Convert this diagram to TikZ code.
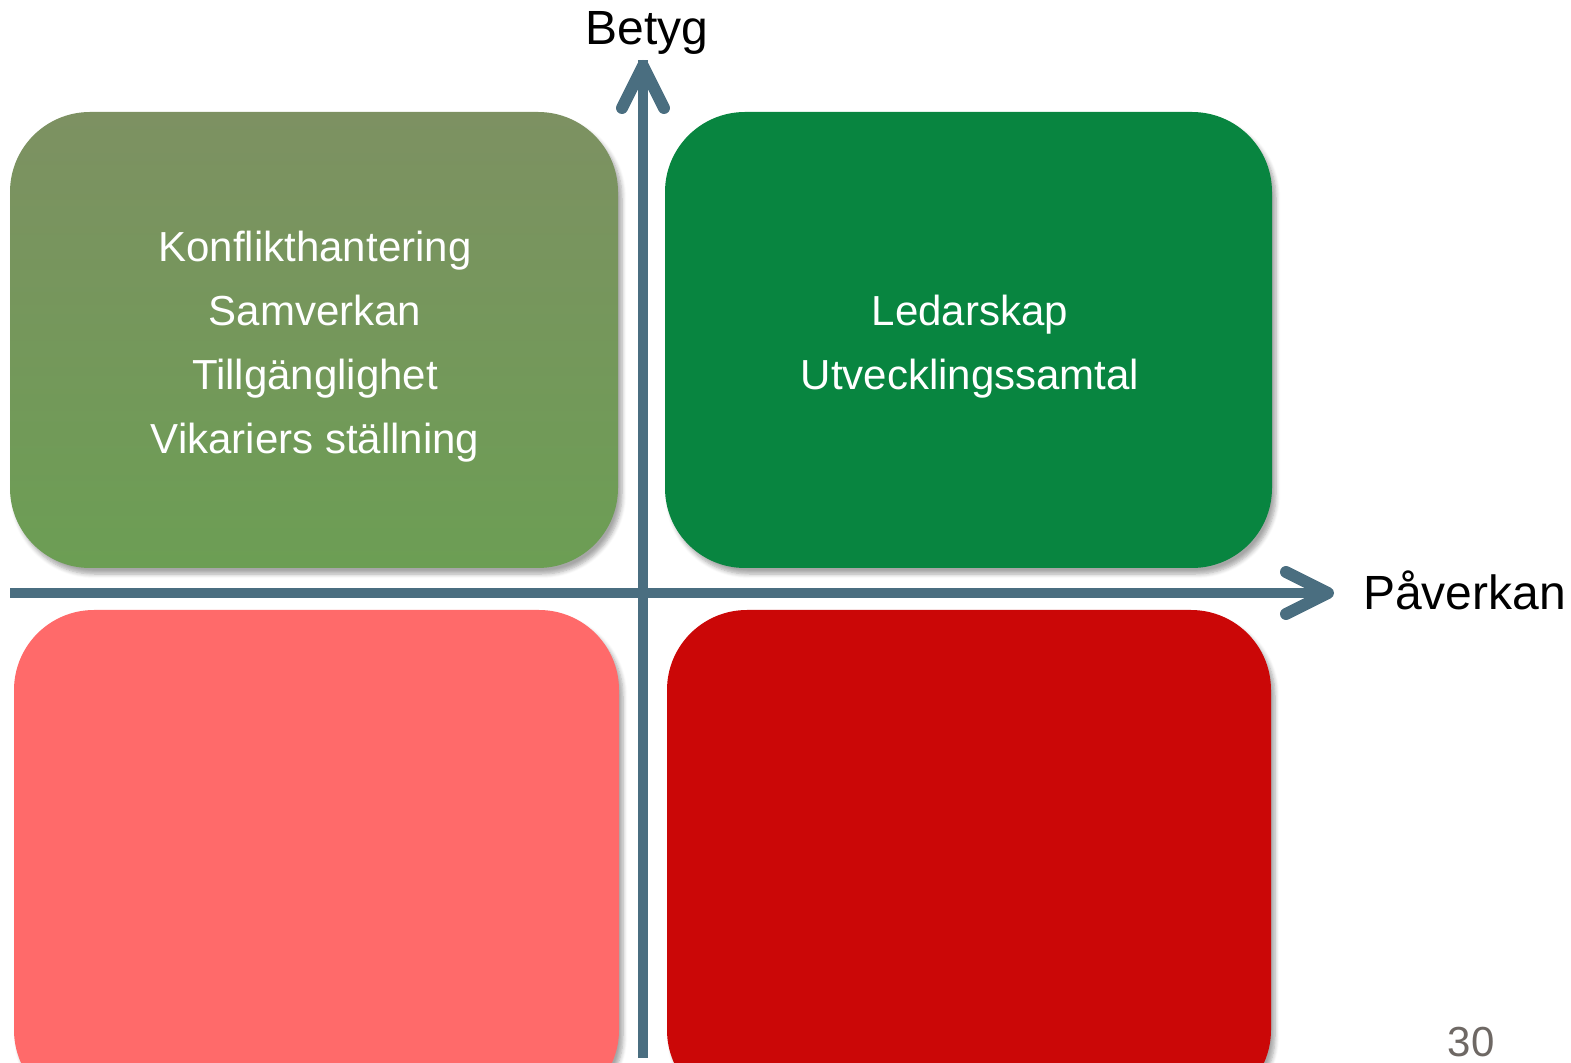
\documentclass[tikz,border=0pt]{standalone}
\usepackage{fontspec}
\setmainfont{Liberation Sans}
\usetikzlibrary{shadows.blur}
\definecolor{olivegreen}{RGB}{125,145,98}
\definecolor{olivegreenlow}{RGB}{108,158,84}
\definecolor{darkgreen}{RGB}{8,133,64}
\definecolor{lightred}{RGB}{255,106,106}
\definecolor{darkred}{RGB}{203,7,7}
\definecolor{axiscol}{RGB}{74,110,128}
\definecolor{pagegray}{RGB}{110,104,100}
\tikzset{
  quad/.style={rounded corners=40pt, blur shadow={shadow xshift=2pt, shadow yshift=-3pt, shadow blur steps=6, shadow opacity=35}},
  boxtext/.style={text=white, font=\fontsize{21}{32}\selectfont, align=center},
  axisline/.style={draw=axiscol, line width=5pt},
  axishead/.style={draw=axiscol, line width=6pt, line cap=round, line join=round},
  axislabel/.style={font=\fontsize{24}{28}\selectfont, text=black}
}
\begin{document}
\begin{tikzpicture}[x=0.5pt,y=-0.5pt]
\useasboundingbox (0,0) rectangle (1571,1063);
\clip (0,0) rectangle (1571,1063);
% quadrants
\path[quad, top color=olivegreen, bottom color=olivegreenlow] (10,112) rectangle (618,568);
\path[quad, fill=darkgreen] (665,112) rectangle (1272,568);
\path[quad, fill=lightred] (14,610) rectangle (619,1110);
\path[quad, fill=darkred] (667,610) rectangle (1271,1110);
% texts
\node[boxtext] (tl) at (315,347) {Konflikthantering\\Samverkan\\Tillgänglighet\\Vikariers ställning};
\node[boxtext] (tr) at (970,347) {Ledarskap\\Utvecklingssamtal};
% axes
\coordinate (xs) at (10,593);
\coordinate (xe) at (1328,593);
\coordinate (ys) at (643,1058);
\coordinate (ye) at (643,66);
\draw[axisline] (xs) -- ([xshift=-3pt]xe);
\draw[axisline] (ys) -- ([yshift=3pt]ye);
\draw[axishead] (1286,572) -- (xe) -- (1286,614);
\draw[axishead] (622,108) -- (ye) -- (664,108);
% labels
\node[axislabel] (betyg) at (647,33) {Betyg};
\node[axislabel, anchor=west] (paverkan) at (1356,590) {Påverkan};
\node[font=\fontsize{21}{24}\selectfont, text=pagegray, inner sep=0pt, anchor=base] (page) at (1471,1057) {30};
\end{tikzpicture}
\end{document}
